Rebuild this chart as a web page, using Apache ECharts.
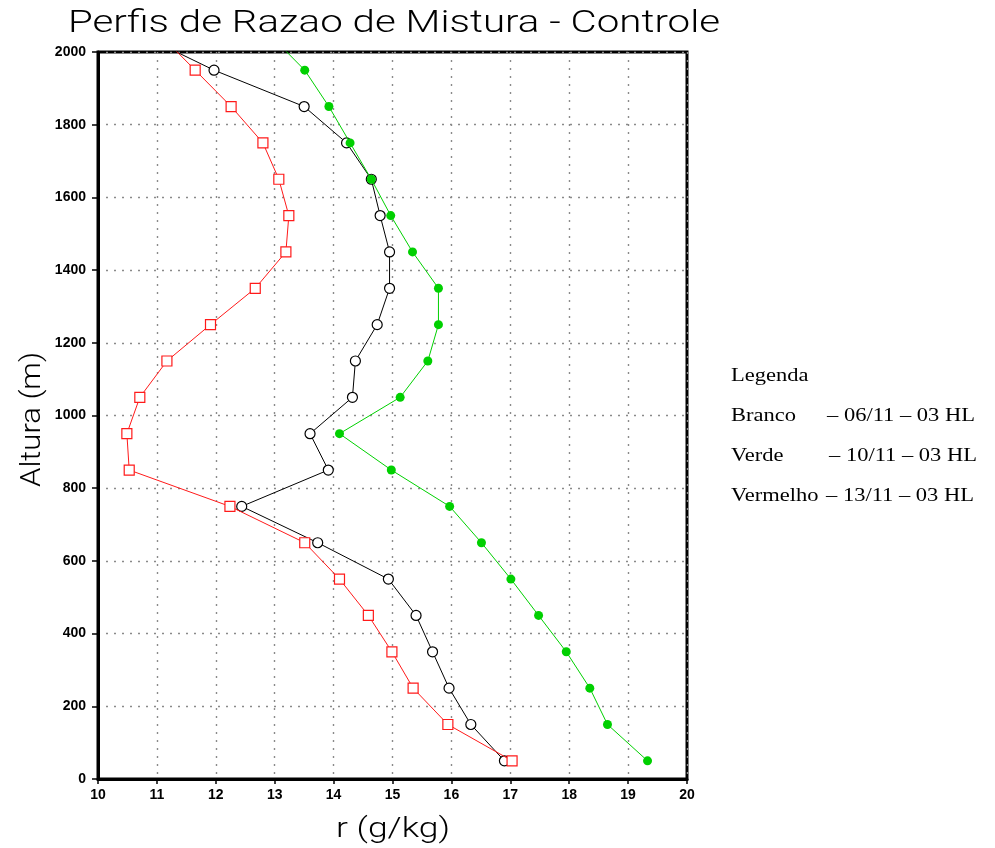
<!DOCTYPE html>
<html><head><meta charset="utf-8">
<script src="https://cdn.jsdelivr.net/npm/echarts@6/dist/echarts.min.js"></script>
<style>html,body{margin:0;padding:0;background:#fff}#c{width:995px;height:848px}</style>
</head><body><div id="c"></div>
<script>
// Heights (m)
const heights = [50,150,250,350,450,550,650,750,850,950,1050,1150,1250,1350,1450,1550,1650,1750,1850,1950,2050];
// Mixing ratio r (g/kg)
const branco   = [16.90,16.33,15.96,15.68,15.40,14.93,13.73,12.44,13.91,13.60,14.32,14.37,14.74,14.95,14.95,14.79,14.64,14.22,13.50,11.97,10.70];
const verde    = [19.33,18.65,18.35,17.95,17.48,17.01,16.51,15.97,14.98,14.10,15.13,15.60,15.78,15.78,15.34,14.97,14.64,14.28,13.92,13.51,12.90];
const vermelho = [17.03,15.94,15.35,14.99,14.59,14.10,13.51,12.24,10.53,10.49,10.71,11.17,11.91,12.67,13.19,13.24,13.07,12.80,12.26,11.65,11.04];
const legendNames = ['Branco','Verde','Vermelho'];
const legendDates = ['\u2013 06/11 \u2013 03 HL','\u2013 10/11 \u2013 03 HL','\u2013 13/11 \u2013 03 HL'];
const titleText = 'Perfis de Razao de Mistura - Controle';
const xName = 'r (g/kg)';
const yName = 'Altura (m)';

const pairs = arr => arr.map((v,i)=>[v,heights[i]]);

const cv = document.createElement('canvas').getContext('2d');
function fitScale(text, font, w){ cv.font = font; return w / cv.measureText(text).width; }

const titleFont = '300 31px Roboto';
const axFont = '300 28px Roboto';
const legFont = '18px "Liberation Serif"';

const chart = echarts.init(document.getElementById('c'), null, {renderer:'canvas'});
const dotted = {show:true, lineStyle:{color:'#8a8a8a', type:[2,6], width:1.4}};
const graphics = [
  {type:'text', x:68, y:24, scaleX: fitScale(titleText, titleFont, 652),
   style:{text:titleText, x:0, y:0, font:titleFont, fill:'#000', verticalAlign:'middle'}},
  {type:'text', x:336, y:830, scaleX: fitScale(xName, axFont, 114),
   style:{text:xName, x:0, y:0, font:axFont, fill:'#000', verticalAlign:'middle'}},
  {type:'text', x:33, y:487, rotation: Math.PI/2, scaleX: fitScale(yName, axFont, 135),
   style:{text:yName, x:0, y:0, font:axFont, fill:'#000', verticalAlign:'middle'}},
  {type:'text', x:731, y:376, scaleX:1.25, style:{text:'Legenda', x:0, y:0, font:legFont, fill:'#000', verticalAlign:'middle'}}
];
const rowY = [416, 456, 496];
const dashX = [827, 829, 826];
legendNames.forEach((n,i)=>{
  graphics.push({type:'text', x:731, y:rowY[i], scaleX:1.25, style:{text:n, x:0, y:0, font:legFont, fill:'#000', verticalAlign:'middle'}});
  graphics.push({type:'text', x:dashX[i], y:rowY[i], scaleX:1.25, style:{text:legendDates[i], x:0, y:0, font:legFont, fill:'#000', verticalAlign:'middle'}});
});

chart.setOption({
  animation:false,
  backgroundColor:'#fff',
  grid:{left:98, right:308, top:52, bottom:69, show:true, borderColor:'#000', borderWidth:3, backgroundColor:'transparent'},
  xAxis:{type:'value', min:10, max:20, interval:1,
    axisLine:{show:true, onZero:false, lineStyle:{color:'#000', width:3}},
    axisTick:{show:true, inside:false, length:5, lineStyle:{color:'#000', width:1.5}},
    axisLabel:{color:'#000', fontSize:14, fontWeight:'bold', fontFamily:'Liberation Sans', margin:9,
      formatter: v => String(v)},
    splitLine:dotted},
  yAxis:{type:'value', min:0, max:2000, interval:200,
    axisLine:{show:true, onZero:false, lineStyle:{color:'#000', width:3}},
    axisTick:{show:true, inside:false, length:6, lineStyle:{color:'#000', width:1.5}},
    axisLabel:{color:'#000', fontSize:14, fontWeight:'bold', fontFamily:'Liberation Sans', margin:12,
      formatter: v => String(v)},
    splitLine:dotted},
  series:[
    {type:'line', data:pairs(branco), clip:true, symbol:'circle', symbolSize:10,
     lineStyle:{color:'#000', width:1}, itemStyle:{color:'#fff', borderColor:'#000', borderWidth:1.2}, z:2},
    {type:'line', data:pairs(vermelho), clip:true, symbol:'rect', symbolSize:10,
     lineStyle:{color:'#ff1a1a', width:1}, itemStyle:{color:'#fff', borderColor:'#ff1a1a', borderWidth:1.2}, z:3},
    {type:'line', data:pairs(verde), clip:true, symbol:'circle', symbolSize:9,
     lineStyle:{color:'#00d000', width:1}, itemStyle:{color:'#00d000', borderColor:'#00d000', borderWidth:0}, z:4}
  ],
  graphic:graphics
});
</script></body></html>
